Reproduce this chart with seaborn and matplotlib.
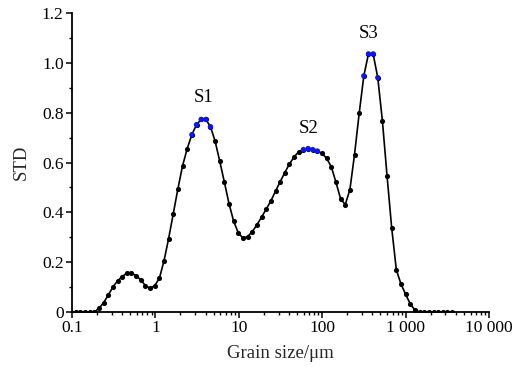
import matplotlib
matplotlib.use("Agg")
import matplotlib.pyplot as plt
import matplotlib.ticker as mticker
import numpy as np
import pandas as pd
import seaborn as sns

# Grain size classes (µm), log-spaced instrument bins
grain_size = [
    0.0975, 0.1108, 0.1260, 0.1432, 0.1628, 0.1851, 0.2104, 0.2392, 0.2720, 0.3092,
    0.3515, 0.3996, 0.4543, 0.5165, 0.5872, 0.6676, 0.7590, 0.8629, 0.9810, 1.1153,
    1.2680, 1.4416, 1.6389, 1.8633, 2.1183, 2.4083, 2.7380, 3.1128, 3.5389, 4.0233,
    4.5741, 5.2002, 5.9121, 6.7214, 7.6415, 8.6875, 9.8767, 11.229, 12.766, 14.513,
    16.500, 18.758, 21.326, 24.245, 27.564, 31.338, 35.627, 40.504, 46.049, 52.352,
    59.519, 67.666, 76.929, 87.460, 99.432, 113.04, 128.52, 146.11, 166.11, 188.85,
    214.70, 244.09, 277.50, 315.49, 358.68, 407.78, 463.60, 527.06, 599.21, 681.23,
    774.48, 880.50, 1001.0, 1138.1, 1293.9, 1471.0, 1672.4, 1901.3, 2161.6, 2457.5,
    2793.9, 3176.3, 3611.1,
]

std_values = [
    0.0, 0.0, 0.0, 0.0, 0.0, 0.0, 0.015, 0.037, 0.068, 0.100,
    0.125, 0.142, 0.156, 0.156, 0.146, 0.129, 0.106, 0.095, 0.106, 0.135,
    0.205, 0.295, 0.395, 0.495, 0.587, 0.656, 0.712, 0.752, 0.773, 0.773,
    0.744, 0.686, 0.605, 0.521, 0.434, 0.364, 0.317, 0.297, 0.303, 0.323,
    0.350, 0.381, 0.413, 0.446, 0.485, 0.523, 0.560, 0.594, 0.623, 0.643,
    0.652, 0.656, 0.652, 0.646, 0.637, 0.617, 0.583, 0.521, 0.455, 0.431,
    0.491, 0.632, 0.797, 0.948, 1.036, 1.036, 0.941, 0.767, 0.546, 0.337,
    0.169, 0.112, 0.071, 0.032, 0.008, 0.0, 0.0, 0.0, 0.0, 0.0,
    0.0, 0.0, 0.0,
]

# indices of highlighted (peak) points
peak_index = [26, 27, 28, 29, 30, 50, 51, 52, 53, 63, 64, 65, 66]

peak_labels = ["S1", "S2", "S3"]
peak_label_x = [3.75, 69.5, 364.0]
peak_label_y = [0.862, 0.737, 1.116]

x_ticks = [0.1, 1, 10, 100, 1000, 10000]
x_tick_labels = ["0.1", "1", "10", "100", "1 000", "10 000"]
y_ticks = [0, 0.2, 0.4, 0.6, 0.8, 1.0, 1.2]
y_tick_labels = ["0", "0.2", "0.4", "0.6", "0.8", "1.0", "1.2"]

df = pd.DataFrame({"size": grain_size, "std": std_values})
df_peak = df.iloc[peak_index]

sns.set_style("ticks")
plt.rcParams["font.family"] = ["Liberation Serif", "DejaVu Serif"]
plt.rcParams["mathtext.fontset"] = "stix"

fig = plt.figure(figsize=(5.16, 3.73), dpi=100)
ax = fig.add_axes([0.1395, 0.1635, 0.8082, 0.8015])

sns.lineplot(data=df, x="size", y="std", ax=ax, color="black", linewidth=1.2,
             marker="o", markersize=3.7, markeredgewidth=0, markerfacecolor="black")
sns.scatterplot(data=df_peak, x="size", y="std", ax=ax, color="#0a14ff",
                s=15, edgecolor="none", zorder=5)

ax.set_xscale("log")
ax.set_xlim(0.1, 10000)
ax.set_ylim(0, 1.2)
ax.set_xticks(x_ticks)
ax.set_xticklabels(x_tick_labels)
ax.xaxis.set_minor_locator(mticker.LogLocator(base=10, subs=np.arange(2, 10)))
ax.xaxis.set_minor_formatter(mticker.NullFormatter())
ax.set_yticks(y_ticks)
ax.set_yticklabels(y_tick_labels)
ax.yaxis.set_minor_locator(mticker.MultipleLocator(0.1))

for side in ["top", "right"]:
    ax.spines[side].set_visible(False)
for side in ["left", "bottom"]:
    ax.spines[side].set_linewidth(1.3)
    ax.spines[side].set_color("black")

ax.tick_params(axis="both", which="major", direction="out", length=4, width=1.1,
               labelsize=12.5, colors="black", pad=2)
ax.tick_params(axis="both", which="minor", direction="out", length=2.5, width=1.0,
               colors="black")

ax.set_xlabel("Grain size/μm", fontsize=13.5, labelpad=6)
ax.set_ylabel("STD", fontsize=13.5, labelpad=9)

for lab, lx, ly in zip(peak_labels, peak_label_x, peak_label_y):
    ax.text(lx, ly, lab, fontsize=13.5, ha="center", va="center", color="black")

fig.savefig("out.png", dpi=100)
